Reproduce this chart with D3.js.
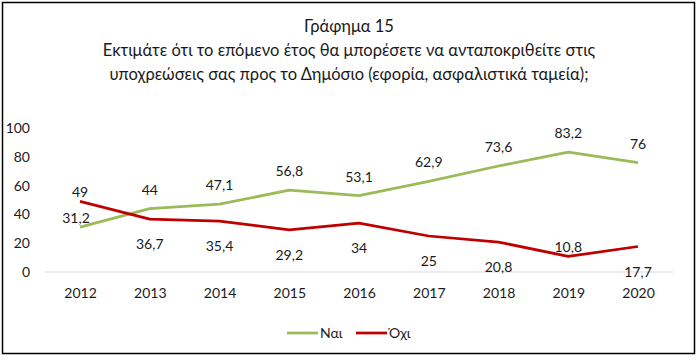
<!DOCTYPE html>
<html>
<head>
<meta charset="utf-8">
<script src="https://cdn.jsdelivr.net/npm/d3@7"></script>
<style>
  body { margin: 0; background: #fff; }
  svg text { font-family: Lato, "Open Sans", "Noto Sans", sans-serif; fill: #1a1a1a; }
</style>
</head>
<body>
<svg id="chart" width="699" height="363"></svg>
<script>
// Data
var years = ["2012", "2013", "2014", "2015", "2016", "2017", "2018", "2019", "2020"];
var yesValues = [31.2, 44, 47.1, 56.8, 53.1, 62.9, 73.6, 83.2, 76];
var noValues = [49, 36.7, 35.4, 29.2, 34, 25, 20.8, 10.8, 17.7];
var yTicks = [0, 20, 40, 60, 80, 100];
var titleLines = [
    "Γράφημα 15",
    "Εκτιμάτε ότι το επόμενο έτος θα μπορέσετε να ανταποκριθείτε στις",
    "υποχρεώσεις σας προς το Δημόσιο (εφορία, ασφαλιστικά ταμεία);"
];

// where each value label sits relative to its point
var yesLabelPos = ["close", "above", "above", "above", "above", "above", "above", "above", "above"];
var noLabelPos = ["close", "below", "below", "below", "below", "below", "below", "close", "below"];

var series = [
    { name: "Ναι", values: yesValues, color: "#9bbb59", labels: yesLabelPos },
    { name: "Όχι", values: noValues, color: "#c00000", labels: noLabelPos }
];

var svg = d3.select("#chart"),
    width = +svg.attr("width"),
    height = +svg.attr("height");

// Outer frame
svg.append("rect")
    .attr("x", 2.5).attr("y", 2.5)
    .attr("width", 692).attr("height", 351)
    .attr("fill", "none").attr("stroke", "#000").attr("stroke-width", 1.5);

// Title
svg.append("g").selectAll("text")
    .data(titleLines)
    .join("text")
    .attr("x", 349)
    .attr("y", function (d, i) { return 32 + i * 24; })
    .attr("text-anchor", "middle")
    .attr("font-size", 16.5)
    .text(function (d) { return d; });

// Scales
var x = d3.scalePoint().domain(years).range([80, 638]);
var y = d3.scaleLinear().domain([0, 100]).range([272, 128]);

// Zero line
svg.append("line")
    .attr("x1", 45).attr("x2", 673)
    .attr("y1", y(0)).attr("y2", y(0))
    .attr("stroke", "#d9d9d9").attr("stroke-width", 1);

// Y axis (labels only)
var yAxis = svg.append("g")
    .attr("transform", "translate(30,0)")
    .call(d3.axisLeft(y).tickValues(yTicks).tickSize(0).tickPadding(0));
yAxis.select(".domain").remove();
yAxis.selectAll("text").attr("font-size", 14).attr("fill", "#1a1a1a")
    .style("font-family", "Lato, 'Open Sans', sans-serif");

// X axis (labels only)
var xAxis = svg.append("g")
    .attr("transform", "translate(0,288)")
    .call(d3.axisBottom(x).tickSize(0).tickPadding(0));
xAxis.select(".domain").remove();
xAxis.selectAll("text").attr("font-size", 14).attr("fill", "#1a1a1a")
    .style("font-family", "Lato, 'Open Sans', sans-serif");

// Lines
var line = d3.line()
    .x(function (d, i) { return x(years[i]); })
    .y(function (d) { return y(d); });

svg.append("g").selectAll("path")
    .data(series)
    .join("path")
    .attr("d", function (s) { return line(s.values); })
    .attr("fill", "none")
    .attr("stroke", function (s) { return s.color; })
    .attr("stroke-width", 2.75)
    .attr("stroke-linejoin", "round");

// Value labels
var labelOffset = { above: -14, below: 30, close: -4 };
series.forEach(function (s) {
    svg.append("g").selectAll("text")
        .data(s.values)
        .join("text")
        .attr("x", function (d, i) { return x(years[i]) - (i === 0 && s.labels[i] === "close" && s.name === "Ναι" ? 4 : 0); })
        .attr("y", function (d, i) { return y(d) + labelOffset[s.labels[i]]; })
        .attr("text-anchor", "middle")
        .attr("font-size", 14)
        .text(function (d) { return String(d).replace(".", ","); });
});

// Legend
var legend = svg.append("g").attr("transform", "translate(287,333)");
var item = legend.selectAll("g")
    .data(series)
    .join("g")
    .attr("transform", function (d, i) { return "translate(" + (i * 69) + ",0)"; });
item.append("line")
    .attr("x1", 0).attr("x2", 31)
    .attr("stroke", function (d) { return d.color; })
    .attr("stroke-width", 2.75);
item.append("text")
    .attr("x", 33).attr("y", 5)
    .attr("font-size", 14)
    .text(function (d) { return d.name; });
</script>
</body>
</html>
